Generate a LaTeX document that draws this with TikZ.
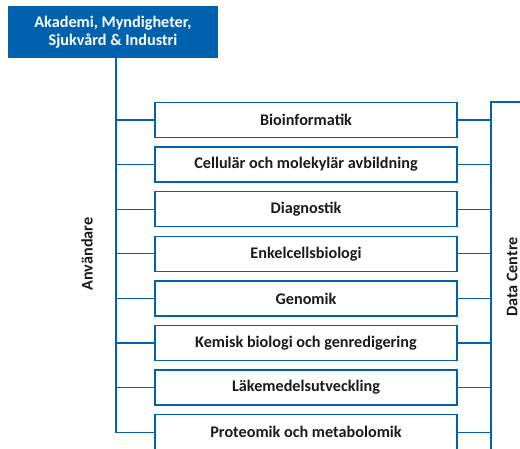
\documentclass[tikz,border=0pt]{standalone}
\usepackage{fontspec}
\setmainfont{Carlito}
\usepackage{tikz}

\definecolor{ublue}{RGB}{0,98,174}
\definecolor{utext}{RGB}{26,26,26}

\begin{document}
\begin{tikzpicture}[x=1pt,y=-1pt,
        branch/.style={draw=ublue,line width=1.3pt},
        area/.style={draw=ublue,line width=1.3pt,minimum width=302pt,minimum height=35pt,inner sep=0pt,
                     text=utext,font=\fontsize{16.2}{19}\selectfont\bfseries},
        side/.style={rotate=90,text=utext,font=\fontsize{16.2}{19}\selectfont\bfseries}]

    \clip (0,0) rectangle (520,448);

    \node[fill=ublue,minimum width=210pt,minimum height=52pt,inner sep=0pt,align=center,
          text=white,font=\fontsize{16.2}{17.5}\selectfont\bfseries] (hdr) at (113,32)
          {Akademi, Myndigheter,\\Sjukvård \& Industri};

    \node[area] (b1) at (306,120)   {Bioinformatik};
    \node[area] (b2) at (306,164.6) {Cellulär och molekylär avbildning};
    \node[area] (b3) at (306,209.2) {Diagnostik};
    \node[area] (b4) at (306,253.8) {Enkelcellsbiologi};
    \node[area] (b5) at (306,298.4) {Genomik};
    \node[area] (b6) at (306,343)   {Kemisk biologi och genredigering};
    \node[area] (b7) at (306,387.6) {Läkemedelsutveckling};
    \node[area] (b8) at (306,432.2) {Proteomik och metabolomik};

    \node[side] (users) at (87,254) {Användare};
    \node[side] (dc) at (512,277) {Data Centre};

    \coordinate (ltop) at (116,58);
    \coordinate (rtop) at (491,102);
    \coordinate (rstub) at (522,102);
    \coordinate (rbot) at (491,452);

    % users side
    \draw[branch] (ltop) |- (b8.west);
    \draw[branch] (ltop |- b1.west) -- (b1.west);
    \draw[branch] (ltop |- b2.west) -- (b2.west);
    \draw[branch] (ltop |- b3.west) -- (b3.west);
    \draw[branch] (ltop |- b4.west) -- (b4.west);
    \draw[branch] (ltop |- b5.west) -- (b5.west);
    \draw[branch] (ltop |- b6.west) -- (b6.west);
    \draw[branch] (ltop |- b7.west) -- (b7.west);

    % data centre side
    \draw[branch] (rstub) -- (rtop) -- (rbot);
    \draw[branch] (b1.east) -- (b1.east -| rtop);
    \draw[branch] (b2.east) -- (b2.east -| rtop);
    \draw[branch] (b3.east) -- (b3.east -| rtop);
    \draw[branch] (b4.east) -- (b4.east -| rtop);
    \draw[branch] (b5.east) -- (b5.east -| rtop);
    \draw[branch] (b6.east) -- (b6.east -| rtop);
    \draw[branch] (b7.east) -- (b7.east -| rtop);
    \draw[branch] (b8.east) -- (b8.east -| rtop);
\end{tikzpicture}
\end{document}
